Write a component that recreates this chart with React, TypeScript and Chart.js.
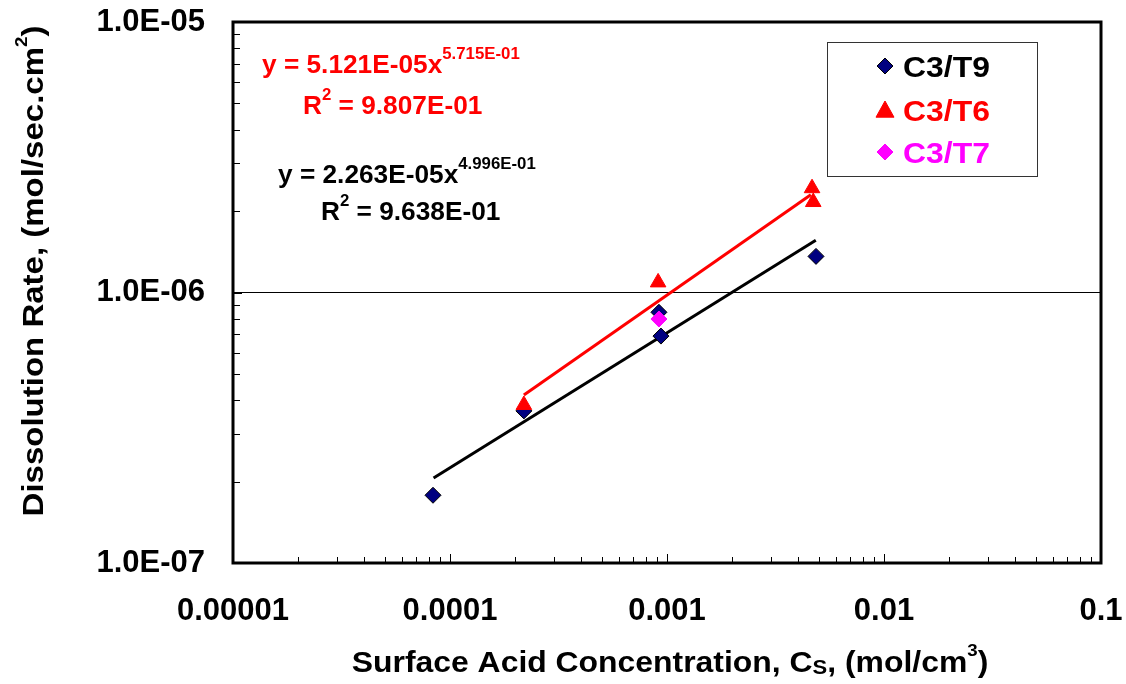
import React, { useEffect, useRef } from 'react';
import { Chart, registerables } from 'chart.js';

Chart.register(...registerables);

// ---- data ----
const t9X = [8.35e-5, 2.19e-4, 9.18e-4, 9.38e-4, 4.86e-3];
const t9Y = [1.78e-7, 3.65e-7, 8.45e-7, 6.9e-7, 1.36e-6];
const t6X = [2.19e-4, 9.1e-4, 4.66e-3, 4.72e-3];
const t6Y = [3.84e-7, 1.09e-6, 2.43e-6, 2.16e-6];
const t7X = [9.18e-4];
const t7Y = [7.98e-7];
const fitT9X = [8.4e-5, 4.85e-3];
const fitT9Y = [2.06e-7, 1.56e-6];
const fitT6X = [2.19e-4, 4.6e-3];
const fitT6Y = [4.18e-7, 2.3e-6];

const xTickValues = [1e-5, 1e-4, 1e-3, 1e-2, 1e-1];
const xTickLabels = ['0.00001', '0.0001', '0.001', '0.01', '0.1'];
const yTickValues = [1e-7, 1e-6, 1e-5];
const yTickLabels = ['1.0E-07', '1.0E-06', '1.0E-05'];
const seriesNames = ['C3/T9', 'C3/T6', 'C3/T7'];

const eqT6 = ['y = 5.121E-05x', '5.715E-01', 'R', '2', ' = 9.807E-01'];
const eqT9 = ['y = 2.263E-05x', '4.996E-01', 'R', '2', ' = 9.638E-01'];

const FONT = '"Liberation Sans", Arial, sans-serif';
const NAVY = '#000080';
const RED = '#FF0000';
const MAGENTA = '#FF00FF';

const pts = (xs: number[], ys: number[]) => xs.map((x, i) => ({ x, y: ys[i] }));

type Seg = { t: string; k?: 'sup' | 'sub' };

function drawRich(
  ctx: CanvasRenderingContext2D,
  segs: Seg[],
  x: number,
  y: number,
  size: number,
  color: string,
  align: 'left' | 'center',
  sx = 1.07,
  supRatio = 0.58
) {
  const fontFor = (k?: string) =>
    `bold ${k === 'sup' ? Math.round(size * supRatio) : k === 'sub' ? Math.round(size * 0.68) : size}px ${FONT}`;
  let w = 0;
  const widths = segs.map((s) => {
    ctx.font = fontFor(s.k);
    const m = ctx.measureText(s.t).width;
    w += m;
    return m;
  });
  ctx.save();
  ctx.translate(x, y);
  ctx.scale(sx, 1);
  ctx.fillStyle = color;
  ctx.textBaseline = 'alphabetic';
  ctx.textAlign = 'left';
  let cx = align === 'center' ? -w / 2 : 0;
  segs.forEach((s, i) => {
    ctx.font = fontFor(s.k);
    const dy = s.k === 'sup' ? -size * 0.55 : s.k === 'sub' ? size * 0.08 : 0;
    ctx.fillText(s.t, cx, dy);
    cx += widths[i];
  });
  ctx.restore();
}

function drawMarker(ctx: CanvasRenderingContext2D, style: string, x: number, y: number, r: number, fill: string, stroke: string) {
  ctx.save();
  ctx.beginPath();
  if (style === 'triangle') {
    ctx.moveTo(x, y - r);
    ctx.lineTo(x + r, y + r * 0.8);
    ctx.lineTo(x - r, y + r * 0.8);
  } else {
    ctx.moveTo(x, y - r);
    ctx.lineTo(x + r, y);
    ctx.lineTo(x, y + r);
    ctx.lineTo(x - r, y);
  }
  ctx.closePath();
  ctx.fillStyle = fill;
  ctx.fill();
  ctx.lineWidth = 1;
  ctx.strokeStyle = stroke;
  ctx.stroke();
  ctx.restore();
}

const decorPlugin = {
  id: 'decor',
  afterDraw(chart: any) {
    const ctx: CanvasRenderingContext2D = chart.ctx;
    const { left, right, top, bottom } = chart.chartArea;
    const xs = chart.scales.x;
    const ys = chart.scales.y;

    ctx.save();
    // minor / major ticks inside the plot
    ctx.strokeStyle = '#000';
    ctx.lineWidth = 1;
    for (let e = -5; e < -1 + 1; e++) {
      for (let k = 1; k <= 9; k++) {
        const v = k * Math.pow(10, e);
        if (v <= 1e-5 || v >= 0.1) continue;
        const px = Math.round(xs.getPixelForValue(v)) + 0.5;
        const len = k === 1 ? 9 : 6;
        ctx.beginPath();
        ctx.moveTo(px, bottom);
        ctx.lineTo(px, bottom - len);
        ctx.stroke();
      }
    }
    for (let e = -7; e < -5; e++) {
      for (let k = 1; k <= 9; k++) {
        const v = k * Math.pow(10, e);
        if (v <= 1e-7 || v >= 1e-5) continue;
        const py = Math.round(ys.getPixelForValue(v)) + 0.5;
        const len = k === 1 ? 9 : 7;
        ctx.beginPath();
        ctx.moveTo(left, py);
        ctx.lineTo(left + len, py);
        ctx.stroke();
      }
    }
    // frame
    ctx.lineWidth = 3;
    ctx.strokeRect(left, top, right - left, bottom - top);
    ctx.restore();

    // axis titles
    drawRich(
      ctx,
      [{ t: 'Surface Acid Concentration, C' }, { t: 'S', k: 'sub' }, { t: ', (mol/cm' }, { t: '3', k: 'sup' }, { t: ')' }],
      (left + right) / 2 + 3,
      672,
      29,
      '#000',
      'center',
      1.1
    );
    ctx.save();
    ctx.translate(43, 271);
    ctx.rotate(-Math.PI / 2);
    drawRich(
      ctx,
      [{ t: 'Dissolution Rate, (mol/sec.cm' }, { t: '2', k: 'sup' }, { t: ')' }],
      0,
      0,
      30,
      '#000',
      'center',
      1.1
    );
    ctx.restore();

    // trendline equations
    drawRich(ctx, [{ t: eqT6[0] }, { t: eqT6[1], k: 'sup' }], 262, 73, 25, RED, 'left', 1.05, 0.64);
    drawRich(ctx, [{ t: eqT6[2] }, { t: eqT6[3], k: 'sup' }, { t: eqT6[4] }], 303, 114, 25, RED, 'left', 1.05, 0.64);
    drawRich(ctx, [{ t: eqT9[0] }, { t: eqT9[1], k: 'sup' }], 278, 183, 25, '#000', 'left', 1.05, 0.64);
    drawRich(ctx, [{ t: eqT9[2] }, { t: eqT9[3], k: 'sup' }, { t: eqT9[4] }], 321, 220, 25, '#000', 'left', 1.05, 0.64);

    // legend
    ctx.save();
    ctx.fillStyle = '#fff';
    ctx.fillRect(827.5, 42.5, 210, 134);
    ctx.strokeStyle = '#333';
    ctx.lineWidth = 1;
    ctx.strokeRect(827.5, 42.5, 210, 134);
    ctx.restore();
    const rows = [
      { y: 66, style: 'diamond', fill: NAVY, stroke: '#000', color: '#000' },
      { y: 110, style: 'triangle', fill: RED, stroke: RED, color: RED },
      { y: 152, style: 'diamond', fill: MAGENTA, stroke: MAGENTA, color: MAGENTA },
    ];
    rows.forEach((r, i) => {
      drawMarker(ctx, r.style, 885, r.y, r.style === 'triangle' ? 9 : 8, r.fill, r.stroke);
      drawRich(ctx, [{ t: seriesNames[i] }], 903, r.y + 11, 29, r.color, 'left', 1.1);
    });
  },
};

export default function App() {
  const ref = useRef<HTMLCanvasElement | null>(null);

  useEffect(() => {
    if (!ref.current) return;
    const chart = new Chart(ref.current, {
      type: 'scatter',
      data: {
        datasets: [
          {
            label: 'fit T9',
            data: pts(fitT9X, fitT9Y),
            showLine: true,
            borderColor: '#000',
            borderWidth: 3,
            pointRadius: 0,
            order: 5,
          },
          {
            label: 'fit T6',
            data: pts(fitT6X, fitT6Y),
            showLine: true,
            borderColor: RED,
            borderWidth: 3,
            pointRadius: 0,
            order: 4,
          },
          {
            label: seriesNames[0],
            data: pts(t9X, t9Y),
            pointStyle: 'rectRot',
            pointRadius: 8,
            backgroundColor: NAVY,
            borderColor: '#000',
            borderWidth: 1,
            order: 3,
          },
          {
            label: seriesNames[1],
            data: pts(t6X, t6Y),
            pointStyle: 'triangle',
            pointRadius: 9,
            backgroundColor: RED,
            borderColor: RED,
            borderWidth: 1,
            order: 2,
          },
          {
            label: seriesNames[2],
            data: pts(t7X, t7Y),
            pointStyle: 'rectRot',
            pointRadius: 8,
            backgroundColor: MAGENTA,
            borderColor: MAGENTA,
            borderWidth: 1,
            order: 1,
          },
        ],
      },
      options: {
        responsive: false,
        animation: false,
        layout: { padding: { top: 22, right: 25, left: 0, bottom: 0 } },
        plugins: {
          legend: { display: false },
          tooltip: { enabled: false },
        },
        scales: {
          x: {
            type: 'logarithmic',
            min: 1e-5,
            max: 0.1,
            afterBuildTicks: (s: any) => {
              s.ticks = xTickValues.map((v) => ({ value: v }));
            },
            afterFit: (s: any) => {
              s.height = 684 - 563;
              s.paddingLeft = 0;
              s.paddingRight = 0;
            },
            ticks: {
              callback: (_v: any, i: number) => xTickLabels[i],
              font: { family: FONT, size: 31, weight: 'bold' },
              color: '#000',
              padding: 30,
              maxRotation: 0,
              autoSkip: false,
            },
            grid: { display: false, drawTicks: false },
            border: { display: false },
          },
          y: {
            type: 'logarithmic',
            min: 1e-7,
            max: 1e-5,
            afterBuildTicks: (s: any) => {
              s.ticks = yTickValues.map((v) => ({ value: v }));
            },
            afterFit: (s: any) => {
              s.width = 233;
              s.paddingTop = 0;
              s.paddingBottom = 0;
            },
            ticks: {
              callback: (_v: any, i: number) => yTickLabels[i],
              font: { family: FONT, size: 31, weight: 'bold' },
              color: '#000',
              padding: 28,
              autoSkip: false,
            },
            grid: {
              drawTicks: false,
              lineWidth: 1,
              color: (c: any) => (c.tick && Math.abs(c.tick.value - 1e-6) < 1e-12 ? '#000' : 'rgba(0,0,0,0)'),
            },
            border: { display: false },
          },
        },
      },
      plugins: [decorPlugin],
    } as any);
    return () => chart.destroy();
  }, []);

  return (
    <div style={{ position: 'fixed', left: 0, top: 0, width: 1126, height: 684, background: '#fff' }}>
      <canvas ref={ref} width={1126} height={684} style={{ display: 'block', width: 1126, height: 684 }} />
    </div>
  );
}
